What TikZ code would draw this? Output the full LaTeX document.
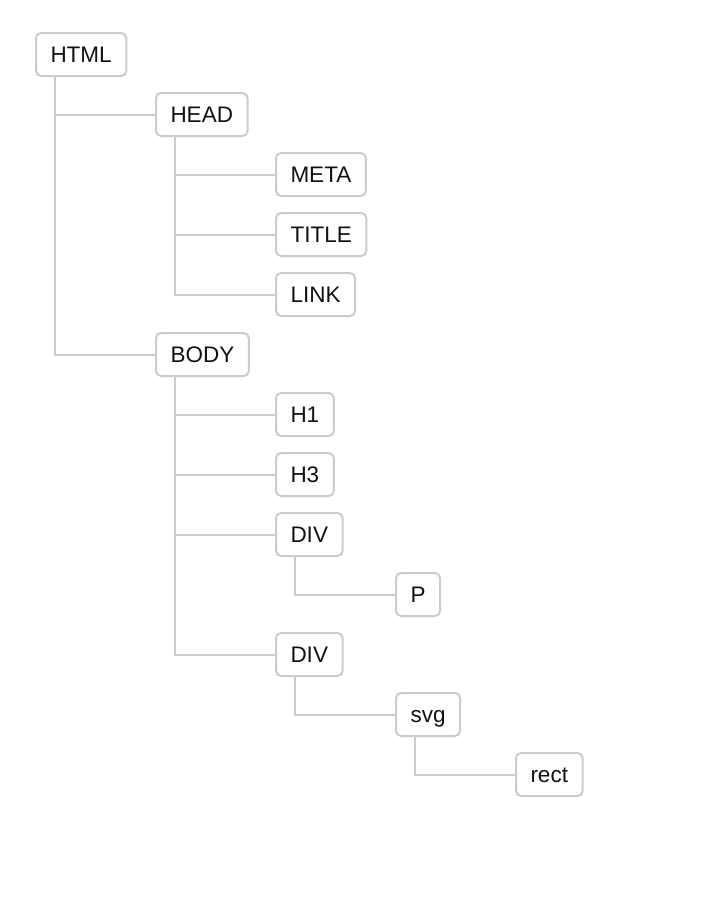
\documentclass[tikz,border=0pt]{standalone}
\usepackage{fontspec}
\setmainfont{Liberation Sans}
\usepackage{tikz}
\usetikzlibrary{positioning,calc}
\definecolor{edgegray}{HTML}{CCCCCC}
\definecolor{textblack}{HTML}{111111}

\begin{document}
\begin{tikzpicture}[x=1pt,y=-1pt,
  tag/.style={draw=edgegray,line width=2pt,rounded corners=5pt,fill=white,
    anchor=west,minimum height=43pt,inner xsep=14.5pt,inner ysep=0pt,
    text height=16pt,text depth=0pt,
    font=\fontsize{22.5}{26}\selectfont,text=textblack},
  link/.style={draw=edgegray,line width=2pt}]
\useasboundingbox (0,0) rectangle (724,902);
% tree levels: each child is 120pt right of its parent, rows 60pt apart
\node[tag] (html) at (35,54.5) {HTML};
\node[tag] (head) at (155,114.5) {HEAD};
\node[tag] (meta) at (275,174.5) {META};
\node[tag] (title) at (275,234.5) {TITLE};
\node[tag] (lnk) at (275,294.5) {LINK};
\node[tag] (body) at (155,354.5) {BODY};
\node[tag] (hone) at (275,414.5) {H1};
\node[tag] (hthree) at (275,474.5) {H3};
\node[tag] (diva) at (275,534.5) {DIV};
\node[tag] (para) at (395,594.5) {P};
\node[tag] (divb) at (275,654.5) {DIV};
\node[tag] (svg) at (395,714.5) {svg};
\node[tag] (rect) at (515,774.5) {rect};
% connectors
\foreach \p/\c in {html/head,html/body,head/meta,head/title,head/lnk,
  body/hone,body/hthree,body/diva,body/divb,diva/para,divb/svg,svg/rect}
  {\draw[link] ([xshift=20pt]\p.south west) |- (\c.west);}
\end{tikzpicture}
\end{document}
